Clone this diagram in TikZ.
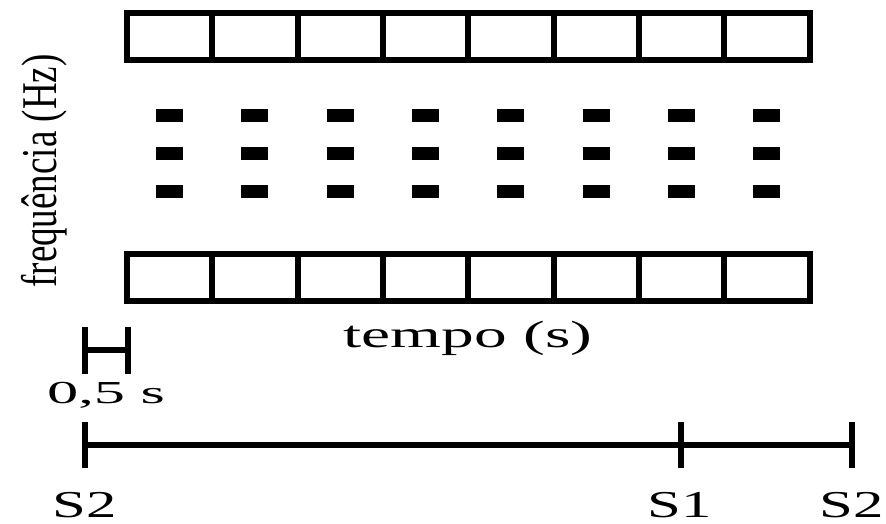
\documentclass[tikz,border=0pt]{standalone}
\usepackage{fontspec}
\setmainfont{Liberation Serif}
\begin{document}
\begin{tikzpicture}[x=1pt,y=-1pt,
  thick line/.style={line width=6pt},
  cellrow/.style={line width=6pt},
  dashbox/.style={fill=black},
  lbl/.style={inner sep=0pt, font=\fontsize{38}{40}\selectfont},
]
\useasboundingbox (0,0) rectangle (886,523);
\def\cw{85.3125}
% top and bottom rows of cells
\foreach \y in {13,254}{
  \foreach \i in {0,...,7}{
    \draw[cellrow] ({127+\i*\cw},\y) rectangle ({127+(\i+1)*\cw},\y+47);
  }
}
% dashes
\foreach \i in {0,...,7}{
  \foreach \y in {115.5,153.5,191.5}{
    \fill[dashbox] ({127+(\i+0.5)*\cw-13.5},\y-6.5) rectangle ++(27,13);
  }
}
% axis labels
\node[lbl, rotate=90, anchor=base, font=\fontsize{50}{52}\selectfont] (ylab) at (56,171) {\scalebox{0.74}[1]{frequência (Hz)}};
\node[lbl, anchor=base] (xlab) at (468,347) {\scalebox{1.72}[1]{tempo (s)}};
% scale bar
\coordinate (sbl) at (85,350);
\coordinate (sbr) at (127.5,350);
\draw[thick line] (sbl) -- (sbr);
\draw[thick line] ([yshift=-24]sbl) -- ([yshift=23]sbl);
\draw[thick line] ([yshift=-24]sbr) -- ([yshift=23]sbr);
\node[lbl, anchor=base, font=\fontsize{32}{34}\selectfont] (half) at (106,403) {\scalebox{1.95}[1]{0,5 s}};
% timeline
\coordinate (t0) at (85,445);
\coordinate (t1) at (681,445);
\coordinate (t2) at (851.5,445);
\draw[thick line] (t0) -- (t2);
\foreach \c in {t0,t1,t2}{
  \draw[thick line] ([yshift=-23]\c) -- ([yshift=23]\c);
}
\node[lbl, anchor=base] (s2a) at (85,517) {\scalebox{1.6}[1]{S2}};
\node[lbl, anchor=base] (s1) at (680,517) {\scalebox{1.6}[1]{S1}};
\node[lbl, anchor=base] (s2b) at (851.5,517) {\scalebox{1.6}[1]{S2}};
\end{tikzpicture}
\end{document}
